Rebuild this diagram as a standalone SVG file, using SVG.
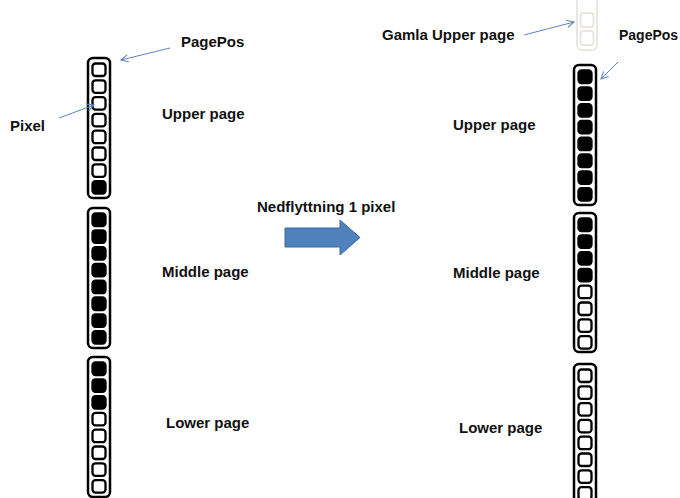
<svg xmlns="http://www.w3.org/2000/svg" width="680" height="498" viewBox="0 0 680 498">
  <defs>
    <style>
      .lbl { font-family: "Liberation Sans", Arial, sans-serif; font-weight: bold; font-size: 15px; fill: #111; }
      .frame { fill: #fff; stroke: #000; stroke-width: 2.5; }
      .off { fill: #fff; stroke: #000; stroke-width: 2.3; }
      .on { fill: #000; stroke: #000; stroke-width: 2.3; }
      .ghost { fill: none; stroke: #e9e7df; stroke-width: 2; }
      .ptr { fill: none; stroke: #5b87c0; stroke-width: 1; marker-end: url(#openHead); }
    </style>
    <marker id="openHead" viewBox="0 0 10 10" refX="9" refY="5" markerWidth="9" markerHeight="9" markerUnits="userSpaceOnUse" orient="auto">
      <path d="M1,1 L9,5 L1,9" fill="none" stroke="#5b87c0" stroke-width="1.2"/>
    </marker>
    <rect id="cellOff" class="off" width="13" height="12.5" rx="3"/>
    <rect id="cellOn" class="on" width="13" height="12.5" rx="3"/>
  </defs>

  <!-- before: upper page -->
  <g id="left-upper">
    <rect class="frame" x="88" y="58" width="22" height="140" rx="5"/>
    <use href="#cellOff" x="92.5" y="63.5"/>
    <use href="#cellOff" x="92.5" y="80.3"/>
    <use href="#cellOff" x="92.5" y="97.1"/>
    <use href="#cellOff" x="92.5" y="113.9"/>
    <use href="#cellOff" x="92.5" y="130.7"/>
    <use href="#cellOff" x="92.5" y="147.5"/>
    <use href="#cellOff" x="92.5" y="164.3"/>
    <use href="#cellOn" x="92.5" y="181.1"/>
  </g>

  <!-- before: middle page -->
  <g id="left-middle">
    <rect class="frame" x="88" y="208" width="22" height="140" rx="5"/>
    <use href="#cellOn" x="92.5" y="213.5"/>
    <use href="#cellOn" x="92.5" y="230.3"/>
    <use href="#cellOn" x="92.5" y="247.1"/>
    <use href="#cellOn" x="92.5" y="263.9"/>
    <use href="#cellOn" x="92.5" y="280.7"/>
    <use href="#cellOn" x="92.5" y="297.5"/>
    <use href="#cellOn" x="92.5" y="314.3"/>
    <use href="#cellOn" x="92.5" y="331.1"/>
  </g>

  <!-- before: lower page -->
  <g id="left-lower">
    <rect class="frame" x="88" y="357" width="22" height="140" rx="5"/>
    <use href="#cellOn" x="92.5" y="362.5"/>
    <use href="#cellOn" x="92.5" y="379.3"/>
    <use href="#cellOn" x="92.5" y="396.1"/>
    <use href="#cellOff" x="92.5" y="412.9"/>
    <use href="#cellOff" x="92.5" y="429.7"/>
    <use href="#cellOff" x="92.5" y="446.5"/>
    <use href="#cellOff" x="92.5" y="463.3"/>
    <use href="#cellOff" x="92.5" y="480.1"/>
  </g>

  <!-- old position of the upper page, faded -->
  <g id="old-upper">
    <rect class="ghost" x="577" y="-12" width="20" height="62" rx="5"/>
    <rect class="ghost" x="580.5" y="13" width="13" height="14" rx="3"/>
    <rect class="ghost" x="580.5" y="31" width="13" height="14" rx="3"/>
  </g>

  <!-- after: upper page -->
  <g id="right-upper">
    <rect class="frame" x="574" y="65" width="22" height="140" rx="5"/>
    <use href="#cellOn" x="578.5" y="70.5"/>
    <use href="#cellOn" x="578.5" y="87.3"/>
    <use href="#cellOn" x="578.5" y="104.1"/>
    <use href="#cellOn" x="578.5" y="120.9"/>
    <use href="#cellOn" x="578.5" y="137.7"/>
    <use href="#cellOn" x="578.5" y="154.5"/>
    <use href="#cellOn" x="578.5" y="171.3"/>
    <use href="#cellOn" x="578.5" y="188.1"/>
  </g>

  <!-- after: middle page -->
  <g id="right-middle">
    <rect class="frame" x="574" y="213" width="22" height="139" rx="5"/>
    <use href="#cellOn" x="578.5" y="218.5"/>
    <use href="#cellOn" x="578.5" y="235.3"/>
    <use href="#cellOn" x="578.5" y="252.1"/>
    <use href="#cellOn" x="578.5" y="268.9"/>
    <use href="#cellOff" x="578.5" y="285.7"/>
    <use href="#cellOff" x="578.5" y="302.5"/>
    <use href="#cellOff" x="578.5" y="319.3"/>
    <use href="#cellOff" x="578.5" y="336.1"/>
  </g>

  <!-- after: lower page -->
  <g id="right-lower">
    <rect class="frame" x="574" y="364" width="22" height="140" rx="5"/>
    <use href="#cellOff" x="578.5" y="369.5"/>
    <use href="#cellOff" x="578.5" y="386.3"/>
    <use href="#cellOff" x="578.5" y="403.1"/>
    <use href="#cellOff" x="578.5" y="419.9"/>
    <use href="#cellOff" x="578.5" y="436.7"/>
    <use href="#cellOff" x="578.5" y="453.5"/>
    <use href="#cellOff" x="578.5" y="470.3"/>
    <use href="#cellOff" x="578.5" y="487.1"/>
  </g>

  <!-- shift arrow -->
  <g id="shift">
    <path d="M285,228 L340,228 L340,220 L360,237.5 L340,255 L340,247 L285,247 Z" fill="#4f81bd" stroke="#3c6a9f" stroke-width="1"/>
    <text class="lbl" x="257" y="212">Nedflyttning 1 pixel</text>
  </g>

  <!-- labels -->
  <g id="labels">
    <text class="lbl" x="181" y="47">PagePos</text>
    <text class="lbl" x="10" y="131">Pixel</text>
    <text class="lbl" x="162" y="119">Upper page</text>
    <text class="lbl" x="162" y="277">Middle page</text>
    <text class="lbl" x="166" y="428">Lower page</text>
    <text class="lbl" x="382" y="40">Gamla Upper page</text>
    <text class="lbl" x="619" y="40" style="font-size:14px">PagePos</text>
    <text class="lbl" x="453" y="130">Upper page</text>
    <text class="lbl" x="453" y="278">Middle page</text>
    <text class="lbl" x="459" y="433">Lower page</text>
  </g>

  <!-- pointer lines -->
  <g id="connectors">
    <line class="ptr" x1="170" y1="48" x2="121" y2="60"/>
    <line class="ptr" x1="59" y1="118" x2="94" y2="105"/>
    <line class="ptr" x1="524" y1="35" x2="574" y2="22"/>
    <line class="ptr" x1="618" y1="62" x2="601" y2="79"/>
  </g>
</svg>
